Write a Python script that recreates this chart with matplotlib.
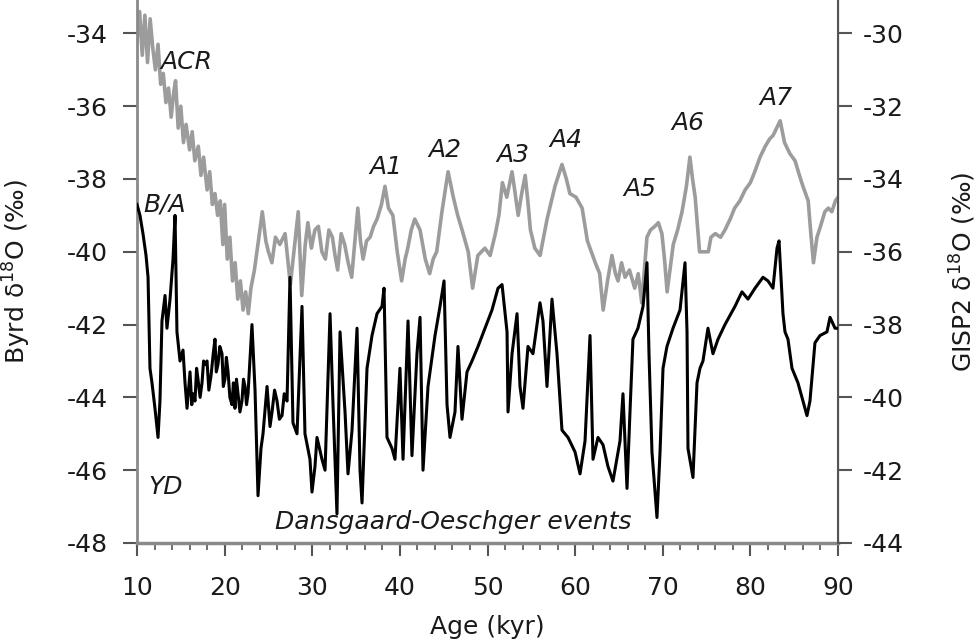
import numpy as np
import matplotlib
matplotlib.use('Agg')
import matplotlib.pyplot as plt

plt.rcParams['font.family'] = ['DejaVu Sans']

# Byrd (Antarctica) d18O, grey curve, left axis
byrd_age = [10.0, 10.3, 10.6, 10.9, 11.2, 11.5, 11.8, 12.1, 12.4, 12.7, 13.0, 13.3, 13.6, 13.9,
            14.2, 14.4, 14.7, 15.0, 15.3, 15.6, 16.0, 16.3, 16.6, 17.0, 17.3, 17.6, 18.0, 18.3,
            18.6, 18.9, 19.2, 19.5, 19.8, 20.0, 20.3, 20.6, 20.9, 21.2, 21.5, 21.8, 22.1, 22.4,
            22.7, 23.0, 23.4, 23.8, 24.3, 24.7, 25.0, 25.4, 25.8, 26.3, 26.9, 27.2, 27.5, 27.9,
            28.4, 28.8, 29.2, 29.5, 29.9, 30.3, 30.7, 31.1, 31.5, 31.9, 32.3, 32.6, 32.9, 33.3,
            33.7, 34.1, 34.5, 34.9, 35.2, 35.5, 35.8, 36.2, 36.6, 37.0, 37.4, 37.9, 38.3, 38.7,
            39.2, 39.7, 40.2, 40.6, 40.9, 41.3, 41.7, 42.3, 42.9, 43.4, 43.8, 44.2, 44.8, 45.5,
            46.1, 46.6, 47.1, 47.8, 48.3, 48.9, 49.7, 50.3, 50.9, 51.3, 51.7, 52.2, 52.8, 53.1,
            53.5, 53.9, 54.3, 54.6, 54.9, 55.4, 56.0, 56.8, 57.7, 58.5, 59.0, 59.4, 60.1, 60.8,
            61.4, 62.3, 62.8, 63.2, 63.7, 64.2, 64.6, 64.9, 65.3, 65.7, 66.2, 66.8, 67.2, 67.6,
            68.2, 68.6, 69.1, 69.5, 69.9, 70.2, 70.5, 71.2, 71.7, 72.2, 72.7, 73.1, 73.4, 73.7,
            74.2, 75.2, 75.5, 76.0, 76.6, 77.1, 77.7, 78.2, 78.8, 79.4, 80.0, 80.5, 81.1, 81.7,
            82.2, 82.6, 83.0, 83.4, 83.9, 84.5, 85.1, 85.6, 86.0, 86.6, 86.9, 87.2, 87.6, 88.0,
            88.5, 88.9, 89.3, 89.7, 90.0]
byrd_d18o = [-34.2, -33.4, -34.6, -33.5, -34.8, -33.6, -34.4, -35.0, -34.3, -35.4, -35.1, -35.9,
             -35.5, -36.3, -35.6, -35.3, -36.6, -36.0, -37.0, -36.5, -37.2, -36.7, -37.5, -37.1,
             -37.9, -37.4, -38.3, -37.8, -38.7, -38.4, -39.0, -38.6, -39.8, -38.7, -40.2, -39.6,
             -40.8, -40.3, -41.3, -40.8, -41.6, -41.1, -41.7, -41.0, -40.5, -39.8, -38.9, -39.7,
             -40.0, -40.3, -39.6, -39.8, -39.5, -40.2, -40.9, -40.0, -38.9, -41.2, -39.8, -39.2,
             -39.9, -39.4, -39.3, -40.0, -40.2, -39.4, -39.6, -40.1, -40.5, -39.5, -39.8, -40.3,
             -40.7, -39.6, -38.8, -39.7, -40.2, -39.7, -39.6, -39.3, -39.1, -38.7, -38.2, -38.8,
             -39.0, -40.0, -40.8, -40.2, -39.9, -39.4, -39.1, -39.4, -40.2, -40.6, -40.2, -40.0,
             -38.9, -37.8, -38.5, -39.0, -39.4, -40.0, -41.0, -40.1, -39.9, -40.1, -39.5, -39.0,
             -38.1, -38.5, -37.8, -38.3, -39.0, -38.4, -37.9, -38.6, -39.4, -39.9, -40.1, -39.1,
             -38.2, -37.6, -38.0, -38.4, -38.5, -38.8, -39.7, -40.3, -40.6, -41.6, -40.8, -40.1,
             -40.6, -40.8, -40.3, -40.7, -40.5, -41.0, -40.6, -41.4, -39.6, -39.4, -39.3, -39.2,
             -39.5, -40.2, -41.1, -39.8, -39.4, -38.9, -38.2, -37.4, -38.0, -38.5, -40.0, -40.0,
             -39.6, -39.5, -39.6, -39.4, -39.1, -38.8, -38.6, -38.3, -38.1, -37.8, -37.4, -37.1,
             -36.9, -36.8, -36.6, -36.4, -37.0, -37.3, -37.5, -37.9, -38.2, -38.6, -39.5, -40.3,
             -39.6, -39.3, -38.9, -38.8, -38.9, -38.6, -38.5]

# GISP2 (Greenland) d18O, black curve, right axis
gisp_age = [10.0, 10.34, 10.68, 11.03, 11.26, 11.48, 11.71, 12.05, 12.4, 12.62, 12.85, 13.2, 13.42,
            13.77, 14.11, 14.34, 14.56, 14.91, 15.25, 15.48, 15.71, 16.05, 16.25, 16.39, 16.62,
            16.8, 16.96, 17.2, 17.42, 17.6, 17.76, 17.99, 18.2, 18.45, 18.7, 18.9, 19.05, 19.24,
            19.45, 19.7, 19.85, 20.04, 20.2, 20.39, 20.6, 20.84, 21.0, 21.18, 21.35, 21.53, 21.75,
            21.98, 22.15, 22.33, 22.5, 22.67, 23.12, 23.47, 23.81, 24.15, 24.38, 24.84, 25.18,
            25.41, 25.7, 25.98, 26.25, 26.55, 26.8, 27.12, 27.46, 27.8, 28.26, 28.83, 29.17, 29.74,
            29.97, 30.31, 30.54, 31.11, 31.46, 32.03, 32.37, 32.82, 33.17, 33.74, 34.08, 34.54,
            35.11, 35.45, 35.68, 36.25, 36.82, 37.39, 37.96, 38.19, 38.53, 39.1, 39.44, 40.01,
            40.36, 40.93, 41.38, 41.95, 42.3, 42.64, 43.21, 44.01, 44.58, 45.04, 45.38, 45.72,
            46.29, 46.63, 47.09, 47.66, 48.23, 48.92, 49.71, 50.51, 51.2, 51.66, 52.23, 52.34,
            52.8, 53.37, 53.71, 54.05, 54.62, 55.19, 55.99, 56.33, 56.79, 57.36, 57.93, 58.5,
            59.19, 59.99, 60.56, 61.13, 61.7, 62.04, 62.61, 63.18, 63.75, 64.32, 65.12, 65.46,
            65.92, 66.26, 66.6, 67.17, 67.75, 68.2, 68.43, 68.77, 69.34, 69.69, 70.03, 70.48,
            71.17, 71.97, 72.54, 72.77, 72.88, 73.45, 73.91, 74.25, 74.59, 75.16, 75.73, 76.31,
            77.1, 78.24, 79.04, 79.73, 80.53, 81.44, 82.01, 82.58, 83.04, 83.27, 83.72, 83.95,
            84.29, 84.75, 85.43, 86.0, 86.46, 86.8, 87.37, 87.95, 88.74, 89.09, 89.66, 90.0]
gisp_d18o = [-34.7, -35.0, -35.5, -36.1, -36.7, -39.2, -39.6, -40.3, -41.1, -40.1, -37.9, -37.2,
             -38.1, -37.3, -36.2, -35.0, -38.2, -39.0, -38.7, -39.6, -40.3, -39.3, -40.2, -39.9,
             -40.1, -39.2, -39.5, -40.0, -39.6, -39.0, -39.1, -39.0, -39.8, -39.4, -38.8, -38.4,
             -39.3, -39.1, -38.6, -38.8, -39.7, -39.5, -38.9, -39.3, -40.0, -40.2, -39.6, -40.3,
             -39.5, -39.9, -40.4, -40.1, -39.5, -39.7, -40.2, -39.9, -38.0, -39.8, -42.7, -41.4,
             -41.0, -39.7, -40.8, -40.4, -39.8, -40.1, -40.6, -40.5, -39.9, -40.1, -36.7, -40.7,
             -41.0, -37.5, -41.0, -41.7, -42.6, -41.9, -41.1, -41.7, -42.0, -37.7, -40.2, -43.2,
             -38.2, -40.4, -42.1, -40.9, -38.1, -42.0, -42.9, -39.2, -38.3, -37.7, -37.5, -37.0,
             -41.1, -41.4, -41.7, -39.2, -41.7, -37.9, -41.6, -38.8, -37.8, -42.0, -39.7, -38.3,
             -37.5, -36.8, -40.2, -41.1, -40.4, -38.6, -40.6, -39.3, -39.0, -38.6, -38.1, -37.6,
             -37.0, -36.9, -38.2, -40.4, -38.8, -37.7, -39.7, -40.3, -38.6, -38.8, -37.4, -37.9,
             -39.7, -37.3, -38.8, -40.9, -41.1, -41.5, -42.1, -41.2, -38.3, -41.7, -41.1, -41.3,
             -41.9, -42.3, -41.2, -39.9, -42.5, -40.4, -38.4, -38.1, -37.5, -36.3, -38.8, -41.5,
             -43.3, -41.5, -39.2, -38.6, -38.1, -37.6, -36.3, -38.2, -41.4, -42.2, -39.6, -39.2,
             -39.0, -38.1, -38.8, -38.4, -38.0, -37.5, -37.1, -37.3, -37.0, -36.7, -36.8, -37.0,
             -35.9, -35.7, -37.7, -38.2, -38.4, -39.2, -39.6, -40.1, -40.5, -40.1, -38.5, -38.3,
             -38.2, -37.8, -38.1, -38.1]

# event labels (placed on the Byrd axis)
label_text = ['ACR', 'B/A', 'YD', 'A1', 'A2', 'A3', 'A4', 'A5', 'A6', 'A7',
              'Dansgaard-Oeschger events']
label_age = [15.6, 13.2, 13.3, 38.4, 45.15, 52.9, 58.96, 67.4, 72.9, 82.9, 46.06]
label_val = [-34.79, -38.71, -46.46, -37.67, -37.2, -37.34, -36.93, -38.27, -36.46, -35.77, -47.42]

x_ticks = [10, 20, 30, 40, 50, 60, 70, 80, 90]
left_ticks = [-48, -46, -44, -42, -40, -38, -36, -34]
right_ticks = [-44, -42, -40, -38, -36, -34, -32, -30]


def main():
    fig = plt.figure(figsize=(9.8, 6.43), dpi=100)
    ax = fig.add_axes([137 / 980, 100 / 643, 701 / 980, 543 / 643])
    ax2 = ax.twinx()

    ax.plot(byrd_age, byrd_d18o, color='#9c9c9c', lw=2.6, zorder=2)
    ax2.plot(gisp_age, gisp_d18o, color='black', lw=2.2, zorder=3)

    ax.set_xlim(10, 90)
    ax.set_ylim(-48, -48 + 543 / 36.4)
    ax2.set_ylim(-44, -44 + 543 / 36.4)

    ax.set_xticks(x_ticks)
    ax.set_xticks(np.arange(10, 91, 2), minor=True)
    ax.set_yticks(left_ticks)
    ax2.set_yticks(right_ticks)
    ax.set_yticklabels([str(v) for v in left_ticks])
    ax2.set_yticklabels([str(v) for v in right_ticks])

    ax.spines['top'].set_visible(False)
    ax2.spines['top'].set_visible(False)
    ax.spines['left'].set_color('#8a8a8a')
    ax.spines['left'].set_linewidth(2)
    ax.spines['bottom'].set_color('#8a8a8a')
    ax.spines['bottom'].set_linewidth(2.5)
    ax2.spines['right'].set_color('#555555')
    ax2.spines['right'].set_linewidth(1.5)
    ax2.spines['left'].set_visible(False)
    ax2.spines['bottom'].set_visible(False)

    ax.tick_params(axis='y', direction='out', length=10, width=1.5, color='#555555',
                   labelsize=18, pad=11, labelcolor='#1a1a1a')
    ax2.tick_params(axis='y', direction='out', length=10, width=1.5, color='#555555',
                    labelsize=18, pad=8, labelcolor='#1a1a1a')
    ax.tick_params(axis='x', which='major', direction='out', length=9, width=1.5,
                   color='#555555', labelsize=18, pad=15, labelcolor='#1a1a1a')
    ax.tick_params(axis='x', which='minor', direction='out', length=5, width=1.2, color='#555555')

    ax.set_xlabel('Age (kyr)', fontsize=18, color='#1a1a1a')
    ax.xaxis.set_label_coords(0.5, -0.132)
    ax.set_ylabel('Byrd δ$^{18}$O (‰)', fontsize=18, color='#1a1a1a')
    ax.yaxis.set_label_coords(-0.148, 0.5)
    ax2.set_ylabel('GISP2 δ$^{18}$O (‰)', fontsize=18, color='#1a1a1a')
    ax2.yaxis.set_label_coords(1.157, 0.5)

    for t, a, v in zip(label_text, label_age, label_val):
        ax.text(a, v, t, fontsize=18, style='italic', color='#1a1a1a',
                ha='center', va='center', zorder=4)

    fig.savefig('out.png', dpi=100)


if __name__ == "__main__":
    main()
